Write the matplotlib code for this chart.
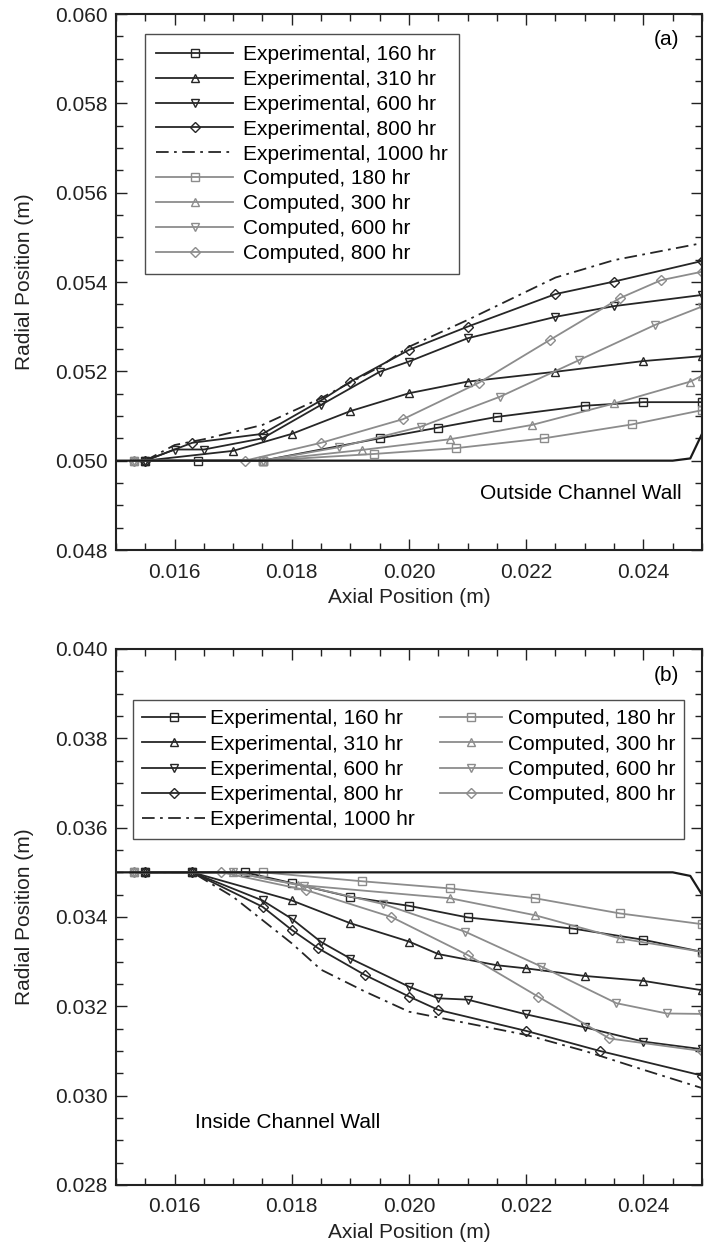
import matplotlib
matplotlib.use("Agg")
import matplotlib.pyplot as plt
from matplotlib.ticker import MultipleLocator, FormatStrFormatter

plt.rcParams["font.family"] = ["Liberation Sans", "DejaVu Sans"]

# ---- panel (a): outside channel wall ----
a_exp160_x = [0.0155, 0.0164, 0.0175, 0.0195, 0.0205, 0.0215, 0.0230, 0.0240, 0.0250]
a_exp160_y = [0.0500, 0.0500, 0.0500, 0.0505, 0.05074, 0.05098, 0.05123, 0.05131, 0.05131]
a_exp310_x = [0.0155, 0.0170, 0.0180, 0.0190, 0.0200, 0.0210, 0.0225, 0.0240, 0.0250]
a_exp310_y = [0.0500, 0.05022, 0.0506, 0.05111, 0.05151, 0.05177, 0.05199, 0.05223, 0.05234]
a_exp600_x = [0.0155, 0.0160, 0.0165, 0.0175, 0.0185, 0.0195, 0.0200, 0.0210, 0.0225, 0.0235, 0.0250]
a_exp600_y = [0.0500, 0.05025, 0.05025, 0.0505, 0.05125, 0.05199, 0.05222, 0.05274, 0.05322, 0.05346, 0.05371]
a_exp800_x = [0.0155, 0.0163, 0.0175, 0.0185, 0.0190, 0.0200, 0.0210, 0.0225, 0.0235, 0.0250]
a_exp800_y = [0.0500, 0.0504, 0.0506, 0.05135, 0.05177, 0.05248, 0.0530, 0.05373, 0.05401, 0.05447]
a_exp1000_x = [0.0155, 0.0160, 0.0165, 0.0175, 0.0185, 0.0195, 0.0200, 0.0210, 0.0225, 0.0235, 0.0250]
a_exp1000_y = [0.0500, 0.05035, 0.05048, 0.0508, 0.0514, 0.0521, 0.05255, 0.05315, 0.0541, 0.05449, 0.05487]
a_comp180_x = [0.0153, 0.0175, 0.0194, 0.0208, 0.0223, 0.0238, 0.0250]
a_comp180_y = [0.0500, 0.0500, 0.05015, 0.05028, 0.0505, 0.05081, 0.05113]
a_comp300_x = [0.0153, 0.0175, 0.0192, 0.0207, 0.0221, 0.0235, 0.0248, 0.0250]
a_comp300_y = [0.0500, 0.0500, 0.05024, 0.05048, 0.0508, 0.05128, 0.05177, 0.0519]
a_comp600_x = [0.0153, 0.0175, 0.0188, 0.0202, 0.02155, 0.0229, 0.0242, 0.0250]
a_comp600_y = [0.0500, 0.0500, 0.0503, 0.05076, 0.05143, 0.05225, 0.05304, 0.05345]
a_comp800_x = [0.0153, 0.0172, 0.0185, 0.0199, 0.0212, 0.0224, 0.0236, 0.0243, 0.0250]
a_comp800_y = [0.0500, 0.0500, 0.0504, 0.05093, 0.05175, 0.0527, 0.05364, 0.05404, 0.05423]
a_wall_x = [0.0150, 0.0245, 0.0248, 0.0250]
a_wall_y = [0.0500, 0.0500, 0.05005, 0.0506]

# ---- panel (b): inside channel wall ----
b_exp160_x = [0.0155, 0.0163, 0.0172, 0.0180, 0.0190, 0.0200, 0.0210, 0.0228, 0.0240, 0.0250]
b_exp160_y = [0.0350, 0.0350, 0.0350, 0.03476, 0.03445, 0.03425, 0.03399, 0.03374, 0.03349, 0.03322]
b_exp310_x = [0.0155, 0.0163, 0.0180, 0.0190, 0.0200, 0.0205, 0.0215, 0.0220, 0.0230, 0.0240, 0.0250]
b_exp310_y = [0.0350, 0.0350, 0.03437, 0.03386, 0.03345, 0.03317, 0.03292, 0.03285, 0.03268, 0.03257, 0.03236]
b_exp600_x = [0.0155, 0.0163, 0.0175, 0.0180, 0.0185, 0.0190, 0.0200, 0.0205, 0.0210, 0.0220, 0.0230, 0.0240, 0.0250]
b_exp600_y = [0.0350, 0.0350, 0.03437, 0.03396, 0.03344, 0.03307, 0.03244, 0.03218, 0.03215, 0.03182, 0.03153, 0.03121, 0.03104]
b_exp800_x = [0.0155, 0.0163, 0.0175, 0.0180, 0.01845, 0.01925, 0.0200, 0.0205, 0.0220, 0.02326, 0.0250]
b_exp800_y = [0.0350, 0.0350, 0.03423, 0.03371, 0.0333, 0.0327, 0.03222, 0.03192, 0.03145, 0.0310, 0.03045]
b_exp1000_x = [0.0155, 0.0163, 0.0170, 0.0175, 0.0180, 0.0185, 0.01925, 0.0200, 0.0210, 0.0220, 0.0230, 0.0240, 0.0250]
b_exp1000_y = [0.0350, 0.0350, 0.03445, 0.03393, 0.03341, 0.03282, 0.03233, 0.03188, 0.03162, 0.03136, 0.0310, 0.03058, 0.03017]
b_comp180_x = [0.0153, 0.0175, 0.0192, 0.0207, 0.02215, 0.0236, 0.0250]
b_comp180_y = [0.0350, 0.0350, 0.0348, 0.03464, 0.03442, 0.03408, 0.03384]
b_comp300_x = [0.0153, 0.0170, 0.0181, 0.0207, 0.02215, 0.0236, 0.0250]
b_comp300_y = [0.0350, 0.0350, 0.03472, 0.03442, 0.03404, 0.03352, 0.03322]
b_comp600_x = [0.0153, 0.0170, 0.0182, 0.01956, 0.02096, 0.02226, 0.02354, 0.0244, 0.0250]
b_comp600_y = [0.0350, 0.0350, 0.0347, 0.03429, 0.03367, 0.03289, 0.03207, 0.03184, 0.03183]
b_comp800_x = [0.0153, 0.0168, 0.01825, 0.0197, 0.0210, 0.0222, 0.02342, 0.0250]
b_comp800_y = [0.0350, 0.0350, 0.0346, 0.0340, 0.03315, 0.03222, 0.03128, 0.0310]
b_wall_x = [0.0150, 0.0245, 0.0248, 0.0250]
b_wall_y = [0.0350, 0.0350, 0.03492, 0.0345]

exp_labels = ["Experimental, 160 hr", "Experimental, 310 hr", "Experimental, 600 hr",
              "Experimental, 800 hr", "Experimental, 1000 hr"]
comp_labels = ["Computed, 180 hr", "Computed, 300 hr", "Computed, 600 hr", "Computed, 800 hr"]
markers = ["s", "^", "v", "D"]

EXP_C = "#262626"
COMP_C = "#8c8c8c"
FS = 15


def draw_panel(ax, exps, comps, wall):
    for (x, y), lab, mk in zip(exps[:4], exp_labels[:4], markers):
        ax.plot(x, y, color=EXP_C, lw=1.3, marker=mk, ms=5.5 if mk != "D" else 4.8,
                mfc="none", mec=EXP_C, mew=1.0, label=lab)
    x, y = exps[4]
    ax.plot(x, y, color=EXP_C, lw=1.3, dashes=(7, 3, 1.5, 3), label=exp_labels[4])
    for (x, y), lab, mk in zip(comps, comp_labels, markers):
        ax.plot(x, y, color=COMP_C, lw=1.3, marker=mk, ms=5.5 if mk != "D" else 4.8,
                mfc="none", mec=COMP_C, mew=1.0, label=lab)
    ax.plot(wall[0], wall[1], color="#1a1a1a", lw=1.6)

    ax.set_xlim(0.015, 0.025)
    ax.xaxis.set_major_locator(MultipleLocator(0.002))
    ax.xaxis.set_minor_locator(MultipleLocator(0.0005))
    ax.yaxis.set_major_locator(MultipleLocator(0.002))
    ax.yaxis.set_minor_locator(MultipleLocator(0.0005))
    ax.xaxis.set_major_formatter(FormatStrFormatter("%.3f"))
    ax.yaxis.set_major_formatter(FormatStrFormatter("%.3f"))
    ax.tick_params(which="both", direction="in", top=True, right=True,
                   labelsize=FS, width=1.0, color="#222222", labelcolor="#222222")
    ax.tick_params(which="major", length=8)
    ax.tick_params(which="minor", length=5)
    ax.tick_params(axis="x", which="major", pad=9)
    ax.tick_params(axis="y", which="major", pad=6)
    for s in ax.spines.values():
        s.set_linewidth(1.5)
        s.set_color("#222222")
    ax.set_xlabel("Axial Position (m)", fontsize=FS, labelpad=5, color="#222222")
    ax.set_ylabel("Radial Position (m)", fontsize=FS, labelpad=15, color="#222222")


fig = plt.figure(figsize=(7.04, 12.55), dpi=100)
ax1 = fig.add_axes([116 / 704, 1 - 550 / 1255, 586 / 704, 536 / 1255])
ax2 = fig.add_axes([116 / 704, 1 - 1185 / 1255, 586 / 704, 536 / 1255])

draw_panel(ax1,
           [(a_exp160_x, a_exp160_y), (a_exp310_x, a_exp310_y), (a_exp600_x, a_exp600_y),
            (a_exp800_x, a_exp800_y), (a_exp1000_x, a_exp1000_y)],
           [(a_comp180_x, a_comp180_y), (a_comp300_x, a_comp300_y),
            (a_comp600_x, a_comp600_y), (a_comp800_x, a_comp800_y)],
           (a_wall_x, a_wall_y))
ax1.set_ylim(0.048, 0.060)
ax1.text(0.94, 0.953, "(a)", transform=ax1.transAxes, fontsize=FS, ha="center", va="center")
ax1.text(0.966, 0.106, "Outside Channel Wall", transform=ax1.transAxes, fontsize=FS,
         ha="right", va="center")
leg1 = ax1.legend(loc="upper left", bbox_to_anchor=(0.049, 0.963), borderaxespad=0,
                  fontsize=FS, handlelength=3.7, handletextpad=0.45, labelspacing=0.28,
                  frameon=True, fancybox=False, edgecolor="#222222", borderpad=0.55)
leg1.get_frame().set_linewidth(1.0)

draw_panel(ax2,
           [(b_exp160_x, b_exp160_y), (b_exp310_x, b_exp310_y), (b_exp600_x, b_exp600_y),
            (b_exp800_x, b_exp800_y), (b_exp1000_x, b_exp1000_y)],
           [(b_comp180_x, b_comp180_y), (b_comp300_x, b_comp300_y),
            (b_comp600_x, b_comp600_y), (b_comp800_x, b_comp800_y)],
           (b_wall_x, b_wall_y))
ax2.set_ylim(0.028, 0.040)
ax2.text(0.94, 0.951, "(b)", transform=ax2.transAxes, fontsize=FS, ha="center", va="center")
ax2.text(0.135, 0.116, "Inside Channel Wall", transform=ax2.transAxes, fontsize=FS,
         ha="left", va="center")
leg2 = ax2.legend(loc="upper left", bbox_to_anchor=(0.029, 0.905), borderaxespad=0,
                  ncol=2, fontsize=FS, handlelength=3.0, handletextpad=0.25,
                  labelspacing=0.3, columnspacing=1.2, frameon=True, fancybox=False,
                  edgecolor="#222222", borderpad=0.45)
leg2.get_frame().set_linewidth(1.0)

fig.savefig("out.png", dpi=100)
